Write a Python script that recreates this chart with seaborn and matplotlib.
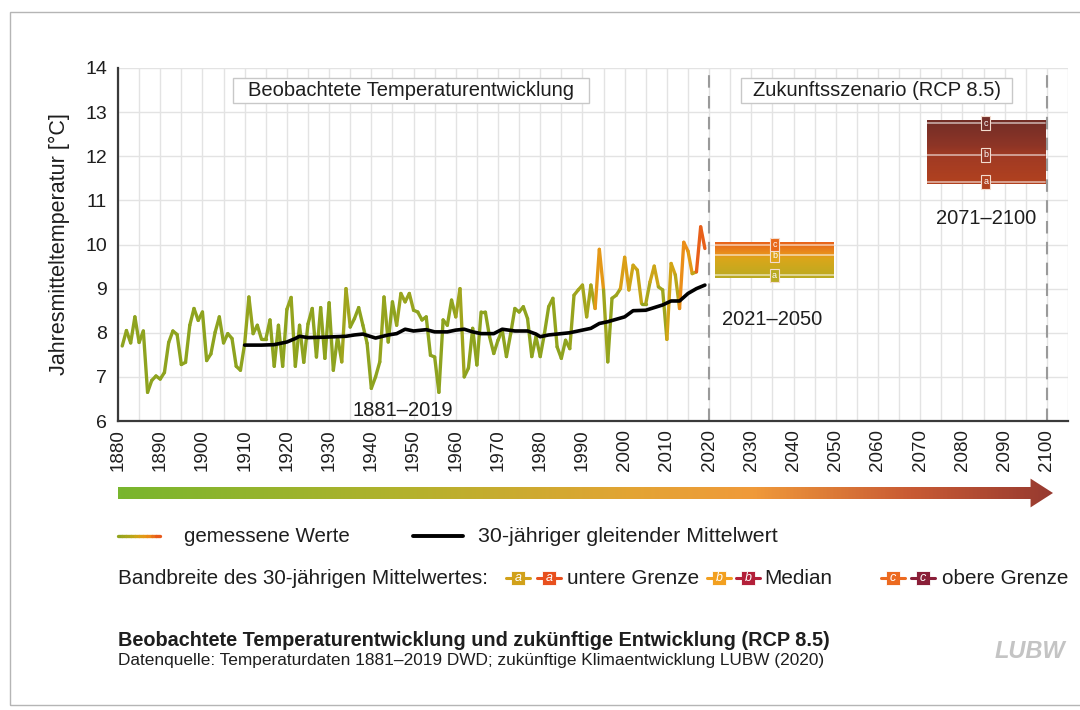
import numpy as np
import matplotlib
matplotlib.use("Agg")
import matplotlib.pyplot as plt
import seaborn as sns
from matplotlib.collections import LineCollection
from matplotlib.colors import LinearSegmentedColormap, Normalize
from matplotlib.patches import Rectangle, Polygon
from matplotlib.lines import Line2D

# ── Data ───────────────────────────────────────────────────────────────────────
YEARS = list(range(1881, 2020))
TEMPS = [
    7.70, 8.05, 7.77, 8.36, 7.78, 8.04, 6.65, 6.92, 7.02,                 # 1881-1889
    6.95, 7.10, 7.78, 8.04, 7.96, 7.28, 7.33, 8.17, 8.55, 8.28,           # 1890-1899
    8.47, 7.37, 7.52, 8.01, 8.36, 7.77, 7.98, 7.87, 7.24, 7.15,           # 1900-1909
    7.75, 8.81, 7.98, 8.17, 7.85, 7.85, 8.29, 7.24, 8.17, 7.24,           # 1910-1919
    8.53, 8.80, 7.24, 8.17, 7.33, 8.20, 8.55, 7.45, 8.57, 7.42,           # 1920-1929
    8.68, 7.15, 7.91, 7.34, 9.00, 8.13, 8.32, 8.57, 8.17, 7.76,           # 1930-1939
    6.74, 7.00, 7.34, 8.81, 7.79, 8.70, 8.17, 8.89, 8.70, 8.89,           # 1940-1949
    8.51, 8.47, 8.29, 8.36, 7.49, 7.45, 6.65, 8.29, 8.17, 8.74,           # 1950-1959
    8.36, 9.00, 7.00, 7.20, 8.10, 7.27, 8.47, 8.47, 7.91, 7.53,           # 1960-1969
    7.83, 8.06, 7.46, 7.98, 8.55, 8.47, 8.59, 8.32, 7.46, 7.91,           # 1970-1979
    7.46, 7.98, 8.59, 8.78, 7.68, 7.42, 7.83, 7.64, 8.85, 8.97,           # 1980-1989
    9.08, 8.36, 9.08, 8.55, 9.89, 8.97, 7.34, 8.78, 8.85, 9.00,           # 1990-1999
    9.71, 8.97, 9.53, 9.42, 8.66, 8.66, 9.15, 9.51, 9.04, 8.97,           # 2000-2009
    7.85, 9.57, 9.31, 8.55, 10.05, 9.85, 9.34, 9.38, 10.40, 9.91,         # 2010-2019
]

# 30-jähriger gleitender Mittelwert
MEAN_YEARS = [1910, 1914, 1917, 1920, 1922, 1923, 1925, 1929, 1934, 1936,
              1938, 1941, 1944, 1946, 1948, 1950, 1953, 1955, 1958, 1960,
              1962, 1964, 1966, 1969, 1971, 1974, 1977, 1979, 1980, 1982,
              1985, 1987, 1990, 1992, 1994, 1996, 2000, 2002, 2005, 2009,
              2011, 2013, 2015, 2017, 2019]
MEAN_VALS = [7.72, 7.72, 7.73, 7.79, 7.87, 7.92, 7.89, 7.90, 7.92, 7.95,
             7.97, 7.88, 7.95, 7.98, 8.08, 8.04, 8.07, 8.02, 8.02, 8.06,
             8.08, 8.02, 7.98, 7.98, 8.08, 8.04, 8.04, 7.97, 7.91, 7.95,
             7.98, 8.00, 8.06, 8.10, 8.21, 8.25, 8.36, 8.50, 8.51, 8.63,
             8.72, 8.72, 8.89, 9.00, 9.08]

# Zukunftsszenario RCP 8.5: Bandbreite des 30-jährigen Mittelwertes
PERIODS      = ["2021–2050", "2071–2100"]
PERIOD_START = [2021, 2071]
PERIOD_END   = [2050, 2100]
BAND_LOW     = [9.30, 11.42]   # a  untere Grenze
BAND_MEDIAN  = [9.76, 12.03]   # b  Median
BAND_HIGH    = [10.00, 12.75]  # c  obere Grenze

X_TICKS = list(range(1880, 2101, 10))
Y_TICKS = list(range(6, 15))

# ── Style ──────────────────────────────────────────────────────────────────────
W, H = 1080, 710
TXT = "#1e1e1e"
GRID = "#e3e3e3"
FONT = ["Liberation Sans", "DejaVu Sans"]

OBS_CMAP = LinearSegmentedColormap.from_list(
    "obs", ["#8ea31f", "#a9a61c", "#d2a516", "#eb9318", "#e85a1a"])
OBS_NORM = Normalize(8.7, 10.45, clip=True)

BAND_CMAPS = [
    LinearSegmentedColormap.from_list(
        "b1", [(0, "#b9ab22"), (0.55, "#dba61a"), (0.65, "#e8941c"), (1, "#e8621a")]),
    LinearSegmentedColormap.from_list(
        "b2", [(0, "#b2421f"), (0.45, "#a03a24"), (0.6, "#8e3526"), (1, "#722d27")]),
]
BAND_LABEL_COL = [["#b9aa22", "#e0a21a", "#e8681a"],
                  ["#b0421f", "#953726", "#76302a"]]

ARROW_CMAP = LinearSegmentedColormap.from_list(
    "arrow", [(0, "#78b62e"), (0.3, "#b2b22c"), (0.55, "#e3a434"),
              (0.68, "#f09a3a"), (0.85, "#c85a34"), (1, "#973a30")])

sns.set_theme(style="whitegrid")
plt.rcParams["font.family"] = FONT
plt.rcParams["text.color"] = TXT


def fx(x):
    return x / W


def fy(y):
    return 1 - y / H


fig = plt.figure(figsize=(W / 100, H / 100), dpi=100)
fig.patch.set_facecolor("white")

# outer frame
fig.add_artist(Rectangle((fx(10), fy(705)), fx(1200), fy(12) - fy(705),
                         transform=fig.transFigure, fill=False,
                         ec="#b5b5b5", lw=1.0))

ax = fig.add_axes([fx(118), fy(421), fx(1068) - fx(118), fy(68) - fy(421)])
ax.set_facecolor("white")

# ── observed series, coloured by value ────────────────────────────────────────
pts = np.column_stack([YEARS, TEMPS])
segs = np.stack([pts[:-1], pts[1:]], axis=1)
seg_val = np.maximum(pts[:-1, 1], pts[1:, 1])
lc = LineCollection(segs, colors=OBS_CMAP(OBS_NORM(seg_val)), linewidths=2.4,
                    capstyle="round", joinstyle="round", zorder=4)
ax.add_collection(lc)

sns.lineplot(x=MEAN_YEARS, y=MEAN_VALS, color="black", linewidth=2.6, ax=ax,
             zorder=5)

# ── future bands ──────────────────────────────────────────────────────────────
grad = np.linspace(0, 1, 256).reshape(-1, 1)
for i in range(len(PERIODS)):
    x0, x1 = PERIOD_START[i] + 0.5, PERIOD_END[i] - 0.5
    y0, y1 = BAND_LOW[i] - 0.05, BAND_HIGH[i] + 0.05
    ax.imshow(grad, extent=[x0, x1, y0, y1], origin="lower", aspect="auto",
              cmap=BAND_CMAPS[i], zorder=3)
    xm = (PERIOD_START[i] + PERIOD_END[i]) / 2
    for lvl, letter, col in zip([BAND_LOW[i], BAND_MEDIAN[i], BAND_HIGH[i]],
                                "abc", BAND_LABEL_COL[i]):
        ax.plot([x0, x1], [lvl, lvl], color="white", alpha=0.55, lw=1.3,
                zorder=4)
        ax.text(xm, lvl, letter, fontsize=6.5, color="white", ha="center",
                va="center", zorder=6,
                bbox=dict(boxstyle="square,pad=0.25", fc=col, ec="#f3ddd0",
                          lw=0.8))

ax.text(2035, 8.29, PERIODS[0], fontsize=14.5, ha="center", va="center",
        color=TXT)
ax.text(2085.5, 10.6, PERIODS[1], fontsize=14.5, ha="center", va="center",
        color=TXT)
ax.text(1947.5, 6.24, "1881–2019", fontsize=14.5, ha="center", va="center",
        color=TXT)

# header boxes
for (bx0, bx1, label) in [(1907.3, 1991.5, "Beobachtete Temperaturentwicklung"),
                          (2027.6, 2091.7, "Zukunftsszenario (RCP 8.5)")]:
    ax.add_patch(Rectangle((bx0, 13.2), bx1 - bx0, 0.57, fc="white",
                           ec="#c8c8c8", lw=1.0, zorder=6))
    ax.text((bx0 + bx1) / 2, 13.49, label, fontsize=14.5, ha="center",
            va="center", color=TXT, zorder=7)

# separators
for xv in [2020, 2100]:
    ax.axvline(xv, color="#9a9a9a", lw=1.5, ls=(0, (6, 4)), zorder=2)

# ── axes styling ──────────────────────────────────────────────────────────────
ax.set_xlim(1880, 2105)
ax.set_ylim(6, 14)
ax.set_xticks(X_TICKS)
ax.set_xticks(list(range(1880, 2106, 5)), minor=True)
ax.set_yticks(Y_TICKS)
ax.set_xticklabels([str(t) for t in X_TICKS], rotation=90, fontsize=13.5,
                   color=TXT)
ax.set_yticklabels([str(t) for t in Y_TICKS], fontsize=14, color=TXT)
ax.grid(which="both", color=GRID, lw=1.0)
ax.set_axisbelow(True)
for side in ["top", "right"]:
    ax.spines[side].set_visible(False)
for side in ["left", "bottom"]:
    ax.spines[side].set_color("#3a3a3a")
    ax.spines[side].set_linewidth(1.6)
ax.tick_params(axis="x", which="major", length=0, pad=6)
ax.tick_params(axis="x", which="minor", length=0)
ax.tick_params(axis="y", length=0, pad=8)
ax.set_ylabel("Jahresmitteltemperatur [°C]", fontsize=15.5, color=TXT,
              labelpad=11)
ax.set_xlabel("")

# ── time arrow ─────────────────────────────────────────────────────────────────
arr = fig.add_axes([fx(118), fy(508), fx(1053) - fx(118), fy(478) - fy(508)])
arr.set_xlim(0, 1)
arr.set_ylim(0, 1)
arr.axis("off")
im = arr.imshow(np.linspace(0, 1, 512).reshape(1, -1), extent=[0, 1, 0, 1],
                aspect="auto", cmap=ARROW_CMAP)
shape = Polygon([(0, 0.3), (0.976, 0.3), (0.976, 0.02), (1, 0.5),
                 (0.976, 0.98), (0.976, 0.7), (0, 0.7)],
                closed=True, fc="none", ec="none", transform=arr.transData)
arr.add_patch(shape)
im.set_clip_path(shape)

# ── legend ─────────────────────────────────────────────────────────────────────
n = 10
xs = np.linspace(118, 160, n + 1)
for k in range(n):
    fig.add_artist(Line2D([fx(xs[k]), fx(xs[k + 1])], [fy(536), fy(536)],
                          transform=fig.transFigure, lw=2.4,
                          color=OBS_CMAP(0.05 + 0.95 * k / (n - 1))))
fig.text(fx(184), fy(536), "gemessene Werte", fontsize=14.8, va="center")
fig.add_artist(Line2D([fx(413), fx(463)], [fy(536), fy(536)],
                      transform=fig.transFigure, lw=2.8, color="black"))
fig.text(fx(478), fy(536), "30-jähriger gleitender Mittelwert", fontsize=15.4,
         va="center")

fig.text(fx(118), fy(578), "Bandbreite des 30-jährigen Mittelwertes:",
         fontsize=14.9, va="center")


def icon(cx, color, letter):
    cy = 578
    fig.add_artist(Line2D([fx(cx - 12), fx(cx + 12)], [fy(cy), fy(cy)],
                          transform=fig.transFigure, lw=2.2, color=color))
    fig.add_artist(Rectangle((fx(cx - 7), fy(cy + 7)), fx(14), fy(0) - fy(14),
                             transform=fig.transFigure, fc=color, ec="white",
                             lw=0.6))
    fig.text(fx(cx), fy(cy), letter, fontsize=9, color="white", ha="center",
             va="center", style="italic")


icon(518, "#d1a11a", "a")
icon(549, "#e8501e", "a")
fig.text(fx(567), fy(578), "untere Grenze", fontsize=14.9, va="center")
icon(719, "#f2a020", "b")
icon(748, "#b3203a", "b")
fig.text(fx(764), fy(578), "Median", fontsize=14.9, va="center")
icon(893, "#ec6a20", "c")
icon(923, "#8a1f38", "c")
fig.text(fx(1068), fy(578), "obere Grenze", fontsize=14.9, va="center",
         ha="right")

# ── title and source ──────────────────────────────────────────────────────────
fig.text(fx(118), fy(640),
         "Beobachtete Temperaturentwicklung und zukünftige Entwicklung (RCP 8.5)",
         fontsize=14.3, fontweight="bold", va="center")
fig.text(fx(118), fy(661),
         "Datenquelle: Temperaturdaten 1881–2019 DWD; zukünftige "
         "Klimaentwicklung LUBW (2020)", fontsize=12.4, va="center")
fig.text(fx(1065), fy(652), "LUBW", fontsize=17, fontweight="bold",
         style="italic", color="#c4c4c4", ha="right", va="center")

fig.savefig("out.png", dpi=100)
